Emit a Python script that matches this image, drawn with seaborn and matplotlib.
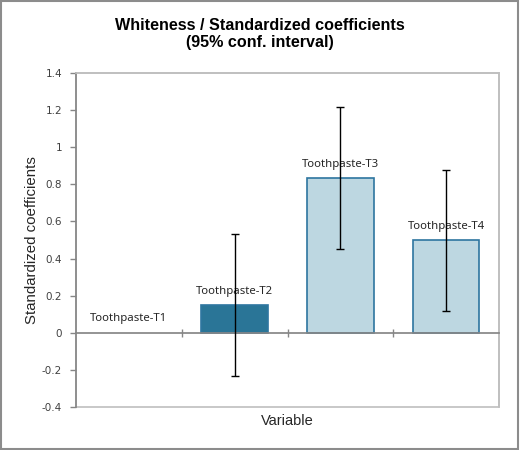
import numpy as np
import pandas as pd
import matplotlib
matplotlib.use("Agg")
import matplotlib.pyplot as plt
from matplotlib.patches import Rectangle
import seaborn as sns

# ---- data ----
categories = ["Toothpaste-T1", "Toothpaste-T2", "Toothpaste-T3", "Toothpaste-T4"]
coefficients = [0.0, 0.15, 0.835, 0.50]
ci_lower = [np.nan, -0.232, 0.453, 0.118]
ci_upper = [np.nan, 0.533, 1.218, 0.878]
bar_colors = ["#BDD7E1", "#2A7597", "#BDD7E1", "#BDD7E1"]
ytick_values = [-0.4, -0.2, 0, 0.2, 0.4, 0.6, 0.8, 1, 1.2, 1.4]
ytick_labels = ["-0.4", "-0.2", "0", "0.2", "0.4", "0.6", "0.8", "1", "1.2", "1.4"]

df = pd.DataFrame({"Variable": categories, "coef": coefficients,
                   "lo": ci_lower, "hi": ci_upper})

sns.set_theme(style="white")
plt.rcParams["font.family"] = ["Liberation Sans", "DejaVu Sans"]

fig = plt.figure(figsize=(5.2, 4.5), dpi=100)
ax = fig.add_axes([76/520, 1-407/450, (499-76)/520, (407-73)/450])

sns.barplot(data=df, x="Variable", y="coef", hue="Variable", palette=bar_colors,
            dodge=False, width=0.63, legend=False, ax=ax, errorbar=None,
            saturation=1, edgecolor="#2E75A0", linewidth=1.2)
for patch, val in zip(ax.patches, coefficients):
    if val == 0:
        patch.set_linewidth(0)

x = np.arange(len(categories))
lo = df["lo"].to_numpy()
hi = df["hi"].to_numpy()
c = df["coef"].to_numpy()
mask = ~np.isnan(lo)
ax.errorbar(x[mask], c[mask], yerr=[c[mask]-lo[mask], hi[mask]-c[mask]],
            fmt="none", ecolor="black", elinewidth=1, capsize=3, capthick=1, zorder=5)

# data labels
for xi, val, lab in zip(x, coefficients, categories):
    ax.annotate(lab, (xi, val), xytext=(0, 6), textcoords="offset points",
                ha="center", va="bottom", fontsize=8.2, family=["Noto Sans", "DejaVu Sans"],
                color="#262626")

ax.set_xlim(-0.5, len(categories) - 0.5)
ax.set_ylim(-0.4, 1.4)
ax.set_yticks(ytick_values)
ax.set_yticklabels(ytick_labels, fontsize=7.5, color="#404040",
                   family=["DejaVu Sans"])
ax.tick_params(axis="y", which="major", direction="out", length=4, width=1,
               color="#868686", left=True, pad=6)

# x-axis at zero with boundary ticks
ax.spines["bottom"].set_position(("data", 0))
ax.spines["bottom"].set_color("#868686")
ax.set_xticks(np.arange(len(categories) - 1) + 0.5)
ax.set_xticklabels([])
ax.tick_params(axis="x", direction="inout", length=6, width=1, color="#868686", bottom=True)
ax.spines["left"].set_color("#868686")
ax.spines["left"].set_linewidth(1.2)
for s in ["top", "right"]:
    ax.spines[s].set_color("#BFBFBF")
    ax.spines[s].set_linewidth(1.2)
ax.add_patch(Rectangle((0, 0), 1, 1, transform=ax.transAxes, fill=False,
                       edgecolor="#BFBFBF", linewidth=1.2, clip_on=False, zorder=0))

ax.set_xlabel("Variable", fontsize=10.5, color="#262626")
ax.xaxis.set_label_coords(0.5, -0.022)
ax.xaxis.label.set_va("top")
ax.set_ylabel("Standardized coefficients", fontsize=10.8, color="#262626")
ax.yaxis.set_label_coords(-0.087, 0.5)

fig.text(0.5, 1 - 34/450, "Whiteness / Standardized coefficients\n(95% conf. interval)",
         ha="center", va="center", fontsize=11.6, fontweight="bold", linespacing=1.1,
         color="black")

fig.add_artist(Rectangle((0.001, 0.002), 0.996, 0.995, transform=fig.transFigure,
                         fill=False, edgecolor="#8C8C8C", linewidth=1.5))

fig.savefig("out.png", dpi=100)
